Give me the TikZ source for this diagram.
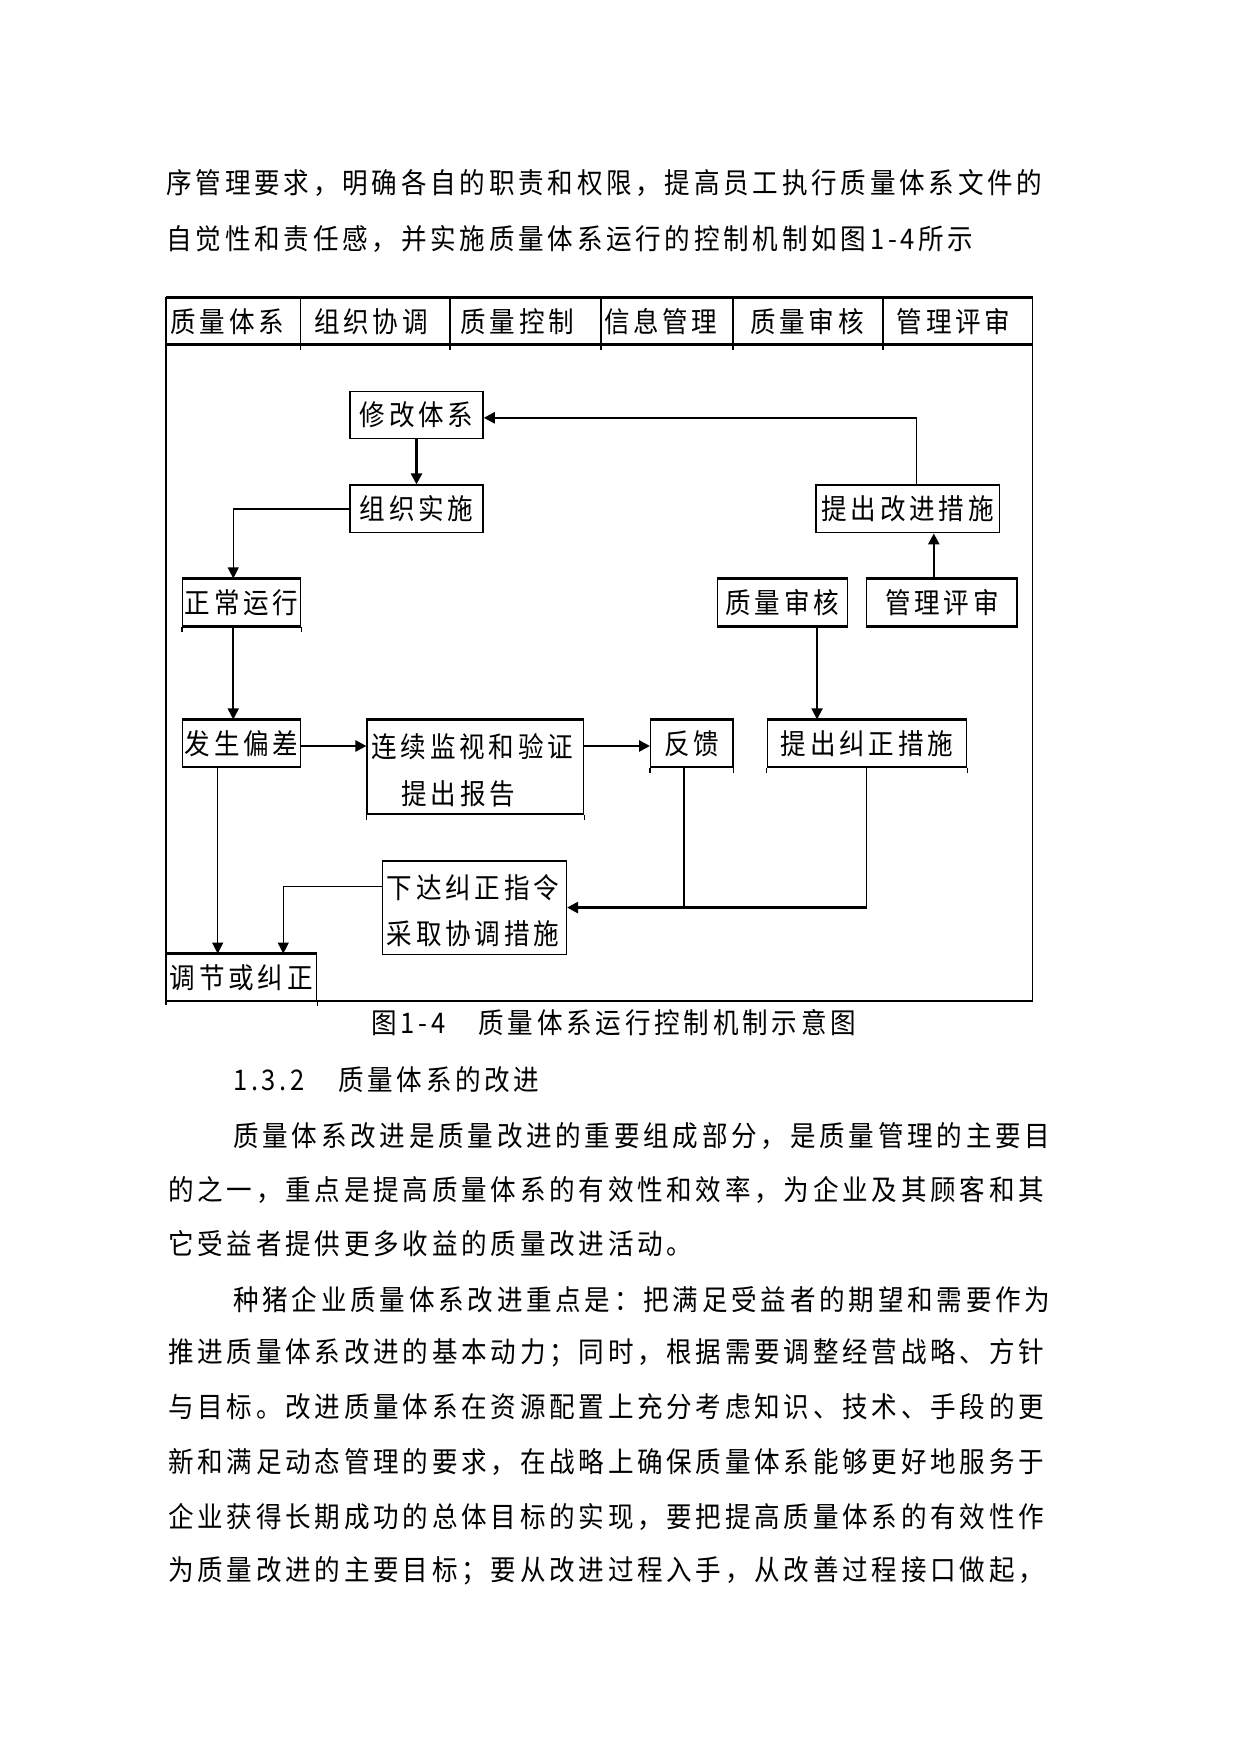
\documentclass[tikz,border=0pt]{standalone}
\usepackage{fontspec}
\newfontfamily\cjkf{Noto Sans CJK SC}[FakeStretch=0.9,LetterSpace=13.2]
\usetikzlibrary{arrows.meta}
\newcommand\myu{0.5595pt}
\tikzset{
  txt/.style={font=\cjkf\fontsize{14.2pt}{16pt}\selectfont, inner sep=0pt, anchor=west},
  bx/.style 2 args={draw, line width=0.7pt, inner sep=0pt, minimum width=#1*\myu, minimum height=#2*\myu, font=\cjkf\fontsize{14.2pt}{16pt}\selectfont},
  thinln/.style={line width=0.6pt},
  medln/.style={line width=0.9pt},
  thickln/.style={line width=1.3pt},
  arr/.style={-{Triangle[length=5.5pt,width=5.5pt]}},
}
\begin{document}
\begin{tikzpicture}[x=\myu,y=-\myu]
\path[fill=white] (0,0) rectangle (1109,1568);
\useasboundingbox (0,0) rectangle (1109,1568);

% paragraph text above
\node[txt] (p1) at (148.5,163.8) {序管理要求，明确各自的职责和权限，提高员工执行质量体系文件的};
\node[txt] (p2) at (148.5,213.6) {自觉性和责任感，并实施质量体系运行的控制机制如图1-4所示};

% frame
\draw[thinln] (148.4,265.7) -- (148.4,898);
\draw[thickln] (148.4,265.7) -- (922.5,265.7);
\draw[thickln] (148.4,307.7) -- (922.5,307.7);
\draw[medln] (922.5,265.7) -- (922.5,894.3);
\draw[thickln] (148.4,894.3) -- (922.5,894.3);
\foreach \dx in {268.5,401.9,536.7,654.8,789.1}
  \draw[medln] (\dx,265.7) -- (\dx,312.5);

% header texts
\node[txt] (h1) at (152,287.5) {质量体系};
\node[txt] (h2) at (280.3,287.5) {组织协调};
\node[txt] (h3) at (411,287.5) {质量控制};
\node[txt] (h4) at (539.3,287.5) {信息管理};
\node[txt] (h5) at (670,287.5) {质量审核};
\node[txt] (h6) at (801,287.5) {管理评审};

% boxes
\node[bx={119}{41.7}] (xiu) at (372.1,370.85) {修改体系};
\node[bx={119}{42.6}] (zu) at (372.1,454.7) {组织实施};
\node[bx={164}{42.6}] (tg) at (811,454.7) {提出改进措施};
\node[bx={105.2}{42}] (zc) at (215.9,538.4) {正常运行};
\node[bx={116}{42}] (zs) at (699,538.4) {质量审核};
\node[bx={134.4}{42}] (gl) at (841.5,538.4) {管理评审};
\node[bx={105.2}{41.7}] (fs) at (215.9,664.25) {发生偏差};
\node[bx={193.4}{84}] (lx) at (424.7,685.4) {};
\node[txt] (lx1) at (331.6,667) {连续监视和验证};
\node[txt] (lx2) at (358.3,709.6) {提出报告};
\node[bx={73.4}{41.7}] (fk) at (618.1,664.25) {反馈};
\node[bx={178.1}{41.7}] (tj) at (774.55,664.25) {提出纠正措施};
\node[bx={164.2}{83.5}] (xd) at (423.9,810.85) {};
\node[txt] (xd1) at (345.4,793) {下达纠正指令};
\node[txt] (xd2) at (345.4,834) {采取协调措施};
\node[bx={134.4}{41.7}] (tz) at (215.6,873.45) {调节或纠正};

% thick top edges and small ticks
\foreach \n in {zc,zs,gl,fs,lx,fk,tj,tz}
  \draw[thickln] (\n.north west) -- (\n.north east);
\foreach \n in {zc,zs,gl}
  \draw[thickln] (\n.south west) -- (\n.south east);
\foreach \n in {zc,lx,fk,tj}{
  \draw[thinln] (\n.south west) -- ++(0,5);
  \draw[thinln] (\n.south east) -- ++(0,5);
}
\draw[thinln] (tz.south east) -- ++(0,4);

% connector helper coordinates
\coordinate (kB) at (819,373.3);
\coordinate (kC) at (208.4,454.7);
\coordinate (kD) at (834.3,0);
\coordinate (kE) at (730,0);
\coordinate (kF) at (0,666.5);
\coordinate (kG) at (611.2,810.85);
\coordinate (kH) at (774.3,810.85);
\coordinate (kI) at (194.5,0);
\coordinate (kJ) at (253.1,791.8);

% connectors
\draw[thickln,arr] (xiu.south) -- (zu.north);
\draw[thinln] (tg.north -| kB) -- (kB);
\draw[thickln,arr] (kB) -- (kB -| xiu.east);
\draw[thinln,arr] (zu.west) -- (kC) -- (kC |- zc.north);
\draw[medln,arr] (zc.south -| kC) -- (fs.north -| kC);
\draw[thickln,arr] (gl.north -| kD) -- (tg.south -| kD);
\draw[medln,arr] (zs.south -| kE) -- (tj.north -| kE);
\draw[thickln,arr] (fs.east |- kF) -- (lx.west |- kF);
\draw[thickln,arr] (lx.east |- kF) -- (fk.west |- kF);
\draw[thinln] (fk.south -| kG) -- (kG);
\draw[thinln] (tj.south -| kH) -- (kH);
\draw[thickln,arr] (kH) -- (xd.east);
\draw[thinln,arr] (fs.south -| kI) -- (tz.north -| kI);
\draw[thinln,arr] (xd.west |- kJ) -- (kJ) -- (kJ |- tz.north);

% caption and following text
\node[txt] (cap) at (331.6,914) {图1-4　质量体系运行控制机制示意图};
\node[txt] (s1) at (208,965) {1.3.2　质量体系的改进};
\node[txt] (t1) at (208,1015) {质量体系改进是质量改进的重要组成部分，是质量管理的主要目};
\node[txt] (t2) at (150,1063) {的之一，重点是提高质量体系的有效性和效率，为企业及其顾客和其};
\node[txt] (t3) at (150,1111) {它受益者提供更多收益的质量改进活动。};
\node[txt] (t4) at (208,1161) {种猪企业质量体系改进重点是：把满足受益者的期望和需要作为};
\node[txt] (t5) at (150,1209) {推进质量体系改进的基本动力；同时，根据需要调整经营战略、方针};
\node[txt] (t6) at (150,1257) {与目标。改进质量体系在资源配置上充分考虑知识、技术、手段的更};
\node[txt] (t7) at (150,1306) {新和满足动态管理的要求，在战略上确保质量体系能够更好地服务于};
\node[txt] (t8) at (150,1355) {企业获得长期成功的总体目标的实现，要把提高质量体系的有效性作};
\node[txt] (t9) at (150,1403) {为质量改进的主要目标；要从改进过程入手，从改善过程接口做起，};
\end{tikzpicture}
\end{document}
